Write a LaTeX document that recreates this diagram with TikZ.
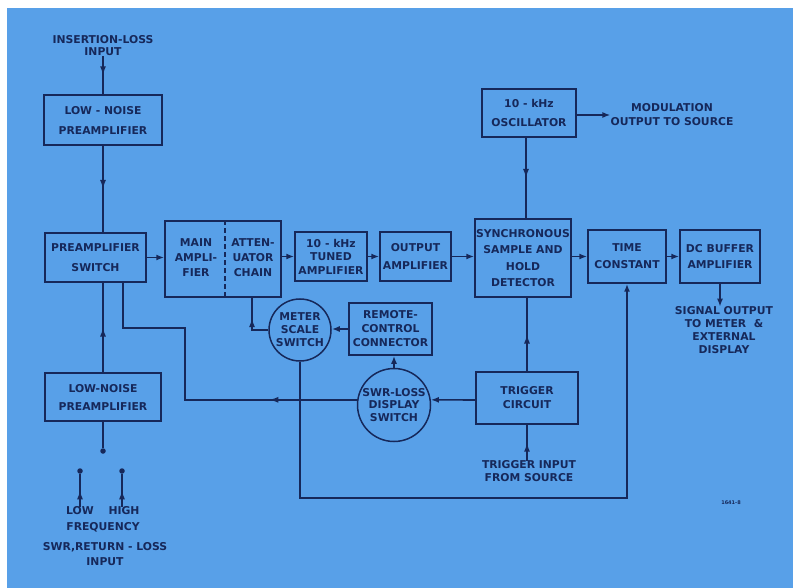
\documentclass[tikz,border=0pt]{standalone}
\usepackage{fontspec}
\setmainfont{DejaVu Sans}
\usetikzlibrary{arrows.meta,decorations.markings,calc}
\definecolor{bg}{RGB}{88,160,232}
\definecolor{ink}{RGB}{22,40,90}
\newcommand\fnt[1]{\fontsize{10.8}{#1}\selectfont\bfseries}
\begin{document}
\begin{tikzpicture}[x=1pt,y=-1pt,
  box/.style={draw=ink,line width=1.5pt,inner sep=0pt,align=center,text=ink,font=\fnt{#1}},
  box/.default=15,
  circ/.style={circle,draw=ink,line width=1.5pt,inner sep=0pt,align=center,text=ink,font=\fnt{#1}},
  circ/.default=13,
  txt/.style={inner sep=0pt,align=center,text=ink,font=\fnt{#1}},
  txt/.default=14,
  dotn/.style={circle,fill=ink,inner sep=0pt,minimum size=5.5pt},
  conn/.style={ink,line width=1.6pt},
  arr/.style={conn,-{Latex[length=8pt,width=6pt]}},
  midarrow/.style={conn,postaction={decorate},decoration={markings,mark=at position #1 with {\arrow{Latex[length=9pt,width=6pt]}}}},
  midarrow/.default=0.5]
\fill[white] (0,0) rectangle (793,588);
\fill[bg] (7,8) rectangle (793,588);
\useasboundingbox (0,0) rectangle (793,588);

% blocks
\node[box=20, minimum width=118pt, minimum height=50pt] (lnp1) at (103,120) {LOW - NOISE\\PREAMPLIFIER};
\node[box=20, minimum width=101pt, minimum height=49pt] (psw) at (95.5,257.5) {PREAMPLIFIER\\SWITCH};
\node[box, minimum width=116pt, minimum height=76pt] (main) at (223,259) {};
\node[txt=15] (mainl) at (196,258) {MAIN\\AMPLI-\\FIER};
\node[txt=15] (mainr) at (253,258) {ATTEN-\\UATOR\\CHAIN};
\node[box=13.5, minimum width=72pt, minimum height=49pt] (tuned) at (331,256.5) {10 - kHz\\TUNED\\AMPLIFIER};
\node[box=18, minimum width=71pt, minimum height=49pt] (outamp) at (415.5,256.5) {OUTPUT\\AMPLIFIER};
\node[box=16.5, minimum width=96pt, minimum height=78pt] (sync) at (523,258) {SYNCHRONOUS\\SAMPLE AND\\HOLD\\DETECTOR};
\node[box=19, minimum width=94pt, minimum height=48pt] (osc) at (529,113) {10 - kHz\\OSCILLATOR};
\node[box=17, minimum width=78pt, minimum height=53pt] (tc) at (627,256.5) {TIME\\CONSTANT};
\node[box=16, minimum width=80pt, minimum height=53pt] (dcb) at (720,256.5) {DC BUFFER\\AMPLIFIER};
\node[box=14, minimum width=102pt, minimum height=52pt] (trig) at (527,398) {TRIGGER\\CIRCUIT};
\node[box=14, minimum width=83pt, minimum height=52pt] (remote) at (390.5,329) {REMOTE-\\CONTROL\\CONNECTOR};
\node[box=18, minimum width=116pt, minimum height=48pt] (lnp2) at (103,397) {LOW-NOISE\\PREAMPLIFIER};
\node[circ=13, minimum size=62pt] (meter) at (300,330) {METER\\SCALE\\SWITCH};
\node[circ=12.5, minimum size=73pt] (swr) at (394,405) {SWR-LOSS\\DISPLAY\\SWITCH};

% labels
\node[txt=12] (ilin) at (103,46) {INSERTION-LOSS\\INPUT};
\node[txt=14] (mod) at (672,115) {MODULATION\\OUTPUT TO SOURCE};
\node[txt=13] (sigout) at (724,330.5) {SIGNAL OUTPUT\\TO METER \ \&\\EXTERNAL\\DISPLAY};
\node[txt=13] (trigin) at (529,471.5) {TRIGGER INPUT\\FROM SOURCE};
\node[txt] (low) at (80,511) {LOW};
\node[txt] (high) at (124,511) {HIGH};
\node[txt] (freq) at (103,527) {FREQUENCY};
\node[txt=15] (swrin) at (105,554.5) {SWR,RETURN - LOSS\\INPUT};
\node[txt, font=\fontsize{5}{6}\selectfont\bfseries] (fig) at (731,503) {1641-8};

% dots
\node[dotn] (d1) at (103,451) {};
\node[dotn] (d2) at (80,471) {};
\node[dotn] (d3) at (122,471) {};

% helper coordinates
\coordinate (ox) at (526,0);
\coordinate (yl) at (0,400);
\coordinate (b1) at (185,328);
\coordinate (b2) at (123,328);
\coordinate (c3) at (0,498);
\coordinate (m1) at (252,0);

% dashed divider
\draw[conn,dashed,dash pattern=on 5pt off 3pt] (main.north -| 225,0) -- (main.south -| 225,0);

% connectors
\draw[midarrow] (ilin.south) -- (lnp1.north);
\draw[midarrow] (lnp1.south) -- (lnp1.south |- psw.north);
\draw[midarrow] (lnp2.north) -- (lnp2.north |- psw.south);
\draw[conn] (lnp2.south) -- (d1);
\draw[midarrow] (low.north) -- (d2);
\draw[midarrow] (high.north -| d3) -- (d3);
\draw[arr] (psw.east) -- (psw.east -| main.west);
\draw[arr] (tuned.west -| main.east) -- (tuned.west);
\draw[arr] (tuned.east) -- (outamp.west);
\draw[arr] (outamp.east) -- (outamp.east -| sync.west);
\draw[midarrow] (osc.south -| ox) -- (sync.north -| ox);
\draw[arr] (osc.east |- mod.west) -- (mod.west);
\draw[arr] (tc.west -| sync.east) -- (tc.west);
\draw[arr] (tc.east) -- (dcb.west);
\draw[arr] (dcb.south) -- (dcb.south |- sigout.north);
\draw[midarrow] (trig.north) -- (trig.north |- sync.south);
\draw[midarrow] (trig.south |- trigin.north) -- (trig.south);
\draw[arr] (trig.west |- yl) -- (swr.8);
\draw[midarrow=0.25] (swr.172) -| (b1) -| (b2 |- psw.south);
\draw[arr] (meter.south) -- (meter.south |- c3) -| (tc.south);
\draw[midarrow=0.58] (meter.west) -| (m1 |- main.south);
\draw[arr] (remote.west) -- (remote.west -| meter.east);
\draw[arr] (swr.north) -- (swr.north |- remote.south);
\end{tikzpicture}
\end{document}
